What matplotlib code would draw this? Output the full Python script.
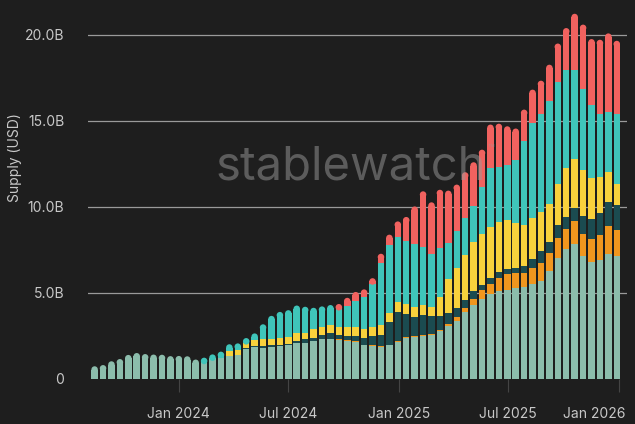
import numpy as np
import pandas as pd
import matplotlib
matplotlib.use("Agg")
import matplotlib.pyplot as plt
import matplotlib.dates as mdates
import matplotlib.transforms as mtransforms
from matplotlib.patches import Ellipse

# biweekly snapshots, supply in billions USD per stablecoin group
dates = pd.date_range("2023-08-14", periods=63, freq="14D")

sage = [0.74, 0.81, 1.03, 1.16, 1.40, 1.51, 1.45, 1.42, 1.41, 1.33,
        1.34, 1.32, 1.13, 1.08, 1.24, 1.24, 1.34, 1.38, 1.76, 1.88,
        1.82, 1.86, 1.89, 1.97, 2.08, 2.12, 2.22, 2.32, 2.32, 2.26,
        2.22, 2.14, 1.95, 1.93, 1.86, 1.95, 2.16, 2.38, 2.42, 2.50,
        2.55, 2.77, 3.06, 3.40, 3.90, 4.32, 4.65, 4.94, 5.10, 5.19,
        5.30, 5.35, 5.50, 5.70, 6.28, 7.05, 7.57, 7.86, 7.15, 6.82,
        6.90, 7.29, 7.15]
orange = [0]*28 + [0.03, 0.05, 0.05, 0.05, 0.05, 0.05, 0.05, 0.05, 0.06, 0.06,
          0.07, 0.07, 0.07, 0.09, 0.15, 0.22, 0.22, 0.33, 0.51, 0.60,
          0.79, 0.93, 0.87, 0.83, 0.97, 1.06, 1.06, 1.16, 1.17, 1.32,
          1.29, 1.33, 1.47, 1.58, 1.51]
dark = [0]*18 + [0.04, 0.04, 0.08, 0.09, 0.11, 0.08, 0.14, 0.18, 0.18, 0.23,
        0.30, 0.24, 0.24, 0.32, 0.41, 0.53, 0.65, 1.29, 1.68, 1.36,
        1.13, 1.13, 1.04, 0.82, 0.65, 0.53, 0.46, 0.45, 0.32, 0.33,
        0.31, 0.28, 0.26, 0.39, 0.49, 0.68, 0.64, 0.74, 0.67, 0.77,
        1.01, 1.13, 1.29, 1.43, 1.43]
yellow = [0]*16 + [0.29, 0.31, 0.31, 0.35, 0.41, 0.39, 0.37, 0.42, 0.46, 0.38,
          0.50, 0.49, 0.49, 0.50, 0.54, 0.51, 0.49, 0.52, 0.58, 0.56,
          0.60, 0.58, 0.58, 0.58, 0.54, 1.08, 1.94, 2.30, 2.65, 2.85,
          2.97, 2.95, 2.91, 2.86, 2.64, 2.38, 2.41, 2.28, 2.22, 2.40,
          2.86, 2.85, 2.69, 2.38, 2.09, 1.74, 1.27]
teal = [0]*13 + [0.16, 0.19, 0.35, 0.39, 0.38, 0.27, 0.38, 0.87, 1.33, 1.53,
        1.53, 1.59, 1.52, 1.24, 1.18, 1.16, 1.11, 1.19, 1.51, 1.85,
        2.52, 3.61, 3.95, 3.75, 3.62, 3.67, 3.39, 3.09, 2.86, 2.11,
        2.17, 2.13, 2.13, 2.71, 3.45, 3.20, 3.18, 3.68, 4.91, 5.52,
        5.69, 5.98, 5.92, 5.71, 5.14, 4.72, 4.25, 3.68, 3.48, 4.05]
red = [0]*29 + [0.20, 0.48, 0.53, 0.46, 0.31, 0.53, 0.59, 0.91, 1.42, 2.16,
       3.24, 2.98, 3.38, 3.04, 2.68, 2.66, 2.52, 2.17, 2.52, 2.53,
       2.25, 1.81, 1.80, 1.93, 1.93, 2.09, 2.23, 2.42, 3.29, 3.74,
       3.85, 4.29, 4.57, 4.25]

tick_dates = ["2024-01-01", "2024-07-01", "2025-01-01", "2025-07-01", "2026-01-01"]
tick_labels = ["Jan 2024", "Jul 2024", "Jan 2025", "Jul 2025", "Jan 2026"]

colors = ["#8cbdac", "#f0961e", "#1b4b50", "#f8d13c", "#3fc5ba", "#f1625f"]
bg = "#1e1e1e"
txt = "#c8c8c8"
fonts = ["Inter", "DejaVu Sans"]

fig = plt.figure(figsize=(6.35, 4.24), dpi=100, facecolor=bg)
ax = fig.add_axes([88/635, 45/424, 539/635, 369/424], facecolor=bg)

width = 10.8   # days
r = 0.19       # radius of the rounded top, in billions (about 3 px)

data = np.array([sage, orange, dark, yellow, teal, red], dtype=float)
totals = data.sum(axis=0)
# index of the topmost non-empty segment for each bar
top_idx = np.array([np.nonzero(data[:, i])[0].max() for i in range(data.shape[1])])

bottom = np.zeros(len(dates))
for k, c in enumerate(colors):
    vals = data[k].copy()
    cut = top_idx == k
    vals[cut] = np.maximum(vals[cut] - r, 0)
    ax.bar(dates, vals, width=width, bottom=bottom, color=c, linewidth=0, zorder=3)
    bottom += data[k]

xs = mdates.date2num(dates)
for x, t, k in zip(xs, totals, top_idx):
    ax.add_patch(Ellipse((x, t - r), width, 2*r, facecolor=colors[k],
                         linewidth=0, zorder=3))

ax.set_xlim(dates[0] - pd.Timedelta(days=11), dates[-1] + pd.Timedelta(days=17))
ax.set_ylim(0, 21.45)

ax.set_yticks([0, 5, 10, 15, 20])
ax.set_yticklabels(["0", "5.0B", "10.0B", "15.0B", "20.0B"])
for v in [5, 10, 15, 20]:
    ax.axhline(v, color="#9a9a9a", linewidth=0.9, zorder=1)

ax.set_xticks(pd.to_datetime(tick_dates))
ax.set_xticklabels(tick_labels)

for s in ax.spines.values():
    s.set_visible(False)
ax.tick_params(axis="y", length=0, pad=17, labelsize=10, labelcolor=txt)
ax.tick_params(axis="x", length=9, width=0.8, color="#444444", pad=11,
               labelsize=10, labelcolor=txt)
for lab in ax.get_xticklabels() + ax.get_yticklabels():
    lab.set_family(fonts)

# last label is pushed inside the figure
last = ax.get_xticklabels()[-1]
last.set_ha("right")
last.set_transform(last.get_transform() +
                   mtransforms.ScaledTranslation(7/100, 0, fig.dpi_scale_trans))

ax.set_ylabel("Supply (USD)", color=txt, fontsize=10, family=fonts)
ax.yaxis.set_label_coords(-0.123, 0.6)

fig.text(0.553, 0.605, "stablewatch", ha="center", va="center", fontsize=34,
         color="#9a9a9a", alpha=0.5, family=fonts, zorder=10)
fig.text(0.767, 0.65, "™", ha="left", va="center", fontsize=8,
         color="#9a9a9a", alpha=0.5, family=fonts, zorder=10)

fig.savefig("out.png", dpi=100, facecolor=bg)
